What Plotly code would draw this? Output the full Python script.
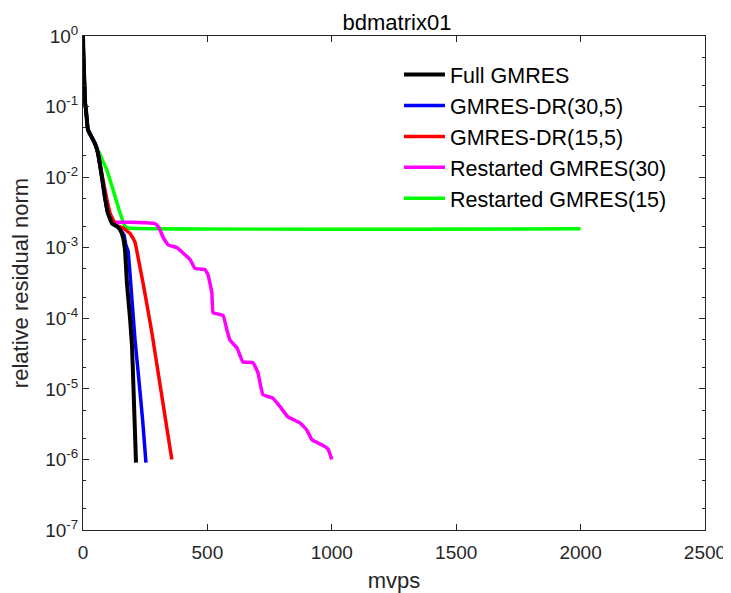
import plotly.graph_objects as go

title_text = "bdmatrix01"
x_label = "mvps"
y_label = "relative residual norm"

full_x = [0, 2, 5, 7, 9, 12, 20, 48, 60, 76, 88, 100, 117, 137, 149, 161, 169, 177, 189, 197, 203, 208, 213]
full_y = [1.0, 0.5, 0.25, 0.15, 0.11, 0.089, 0.047, 0.030, 0.022, 0.010, 0.0052, 0.0031, 0.0022, 0.0020, 0.0018, 0.0014, 9e-4, 3e-4, 1e-4, 4e-5, 1e-5, 3e-6, 9e-7]

dr30_x = [0, 2, 5, 7, 9, 12, 20, 48, 60, 76, 88, 100, 117, 137, 149, 165, 172, 181, 197, 209, 225, 240, 253]
dr30_y = [1.0, 0.5, 0.25, 0.15, 0.11, 0.089, 0.047, 0.030, 0.022, 0.010, 0.0052, 0.0031, 0.0022, 0.0020, 0.0018, 0.0015, 0.0011, 9e-4, 1.8e-4, 5e-5, 1.3e-5, 3.5e-6, 9e-7]

dr15_x = [0, 2, 5, 7, 9, 12, 20, 48, 60, 76, 96, 110, 121, 129, 161, 189, 209, 221, 241, 261, 277, 357]
dr15_y = [1.0, 0.5, 0.25, 0.15, 0.11, 0.089, 0.047, 0.030, 0.022, 0.011, 0.0048, 0.003, 0.0025, 0.0021, 0.0019, 0.0016, 0.0012, 7.4e-4, 3.2e-4, 1.3e-4, 6.2e-5, 1e-6]

r30_x = [0, 2, 5, 7, 9, 12, 20, 48, 60, 76, 88, 100, 117, 129, 200, 289, 297, 309, 322, 342, 378, 398, 430, 450, 490, 502, 518, 523, 563, 578,
         591, 619, 643, 683, 703, 723, 763, 792, 824, 872, 900, 920, 961, 985, 1000]
r30_y = [1.0, 0.5, 0.25, 0.15, 0.11, 0.089, 0.047, 0.030, 0.022, 0.010, 0.0052, 0.0031, 0.0025, 0.0023, 0.0023, 0.0022, 0.0021, 0.0018, 0.0014, 0.0011, 0.001, 8.7e-4, 6.8e-4, 5.1e-4, 4.9e-4, 4.2e-4, 2.3e-4, 1.2e-4, 1.1e-4, 6.9e-5,
         4.9e-5, 3.8e-5, 2.4e-5, 2.35e-5, 1.7e-5, 8.3e-6, 7.4e-6, 5.6e-6, 4.0e-6, 3.3e-6, 2.6e-6, 1.9e-6, 1.6e-6, 1.4e-6, 1e-6]

r15_x = [0, 2, 5, 7, 9, 12, 20, 48, 60, 96, 121, 149, 169, 180, 2000]
r15_y = [1.0, 0.5, 0.25, 0.15, 0.11, 0.089, 0.047, 0.030, 0.024, 0.0126, 0.0066, 0.0031, 0.0020, 0.0019, 0.00185]

series = [
    ("Full GMRES", full_x, full_y, "#000000", 1, 4.0),
    ("GMRES-DR(30,5)", dr30_x, dr30_y, "#0000ff", 2, 3.5),
    ("GMRES-DR(15,5)", dr15_x, dr15_y, "#ff0000", 3, 3.5),
    ("Restarted GMRES(30)", r30_x, r30_y, "#ff00ff", 4, 3.5),
    ("Restarted GMRES(15)", r15_x, r15_y, "#00ff00", 5, 3.5),
]

x_ticks = [0, 500, 1000, 1500, 2000, 2500]
y_tickvals = [1e-7, 1e-6, 1e-5, 1e-4, 1e-3, 1e-2, 1e-1, 1]
y_ticktext = ["10<sup>-7</sup>", "10<sup>-6</sup>", "10<sup>-5</sup>", "10<sup>-4</sup>",
              "10<sup>-3</sup>", "10<sup>-2</sup>", "10<sup>-1</sup>", "10<sup>0</sup>"]

fig = go.Figure()
for name, xs, ys, col, rank, w in reversed(series):
    fig.add_trace(go.Scatter(x=xs, y=ys, name=name, mode="lines",
                             line=dict(color=col, width=w, shape="spline", smoothing=0.3),
                             legendrank=rank))

font_family = "Liberation Sans, Arial, Helvetica, sans-serif"
axis_col = "#262626"

# page body has an 8px margin, so the figure is 8px smaller and margins shifted
fig.update_layout(
    width=723, height=585,
    margin=dict(l=75, r=26, t=28, b=63),
    paper_bgcolor="white", plot_bgcolor="white",
    font=dict(family=font_family, color=axis_col, size=19),
    title=dict(text=title_text, x=0.538, xanchor="center", y=0.976, yanchor="middle",
               font=dict(size=22, color="#000000")),
    showlegend=True,
    legend=dict(x=0.508, y=0.9635, xanchor="left", yanchor="top", itemwidth=41,
                bgcolor="rgba(255,255,255,0)", borderwidth=0,
                font=dict(size=21.5, color="#000000"), tracegroupgap=0),
)
fig.update_xaxes(range=[0, 2500], tickvals=x_ticks, ticks="inside", ticklen=6,
                 showline=True, linecolor=axis_col, linewidth=1, mirror="allticks",
                 showgrid=False, zeroline=False, tickcolor=axis_col, automargin=False,
                 ticklabelstandoff=5,
                 title=dict(text=x_label, font=dict(size=22, color=axis_col), standoff=15),
                 tickfont=dict(size=19, color=axis_col))
fig.update_yaxes(type="log", range=[-7, 0], tickvals=y_tickvals, ticktext=y_ticktext,
                 ticks="inside", ticklen=6, showline=True, linecolor=axis_col, linewidth=1,
                 mirror="allticks", showgrid=False, zeroline=False, tickcolor=axis_col, automargin=False,
                 minor=dict(ticks="inside", ticklen=3, tickcolor=axis_col, showgrid=False),
                 title=dict(text=y_label, font=dict(size=22, color=axis_col), standoff=11),
                 tickfont=dict(size=19, color=axis_col))

fig.write_html("out.html")
